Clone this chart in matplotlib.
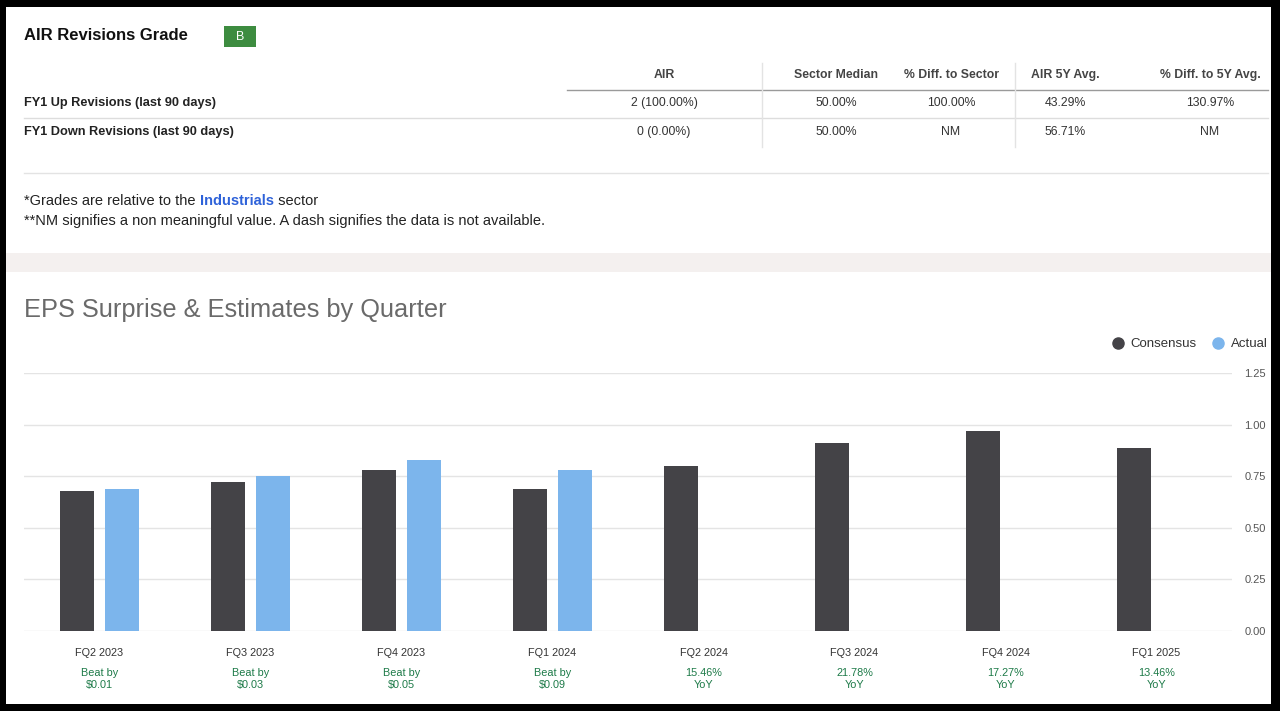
import numpy as np
import matplotlib
matplotlib.use("Agg")
import matplotlib.pyplot as plt
from matplotlib.patches import Rectangle
from matplotlib.lines import Line2D

plt.rcParams['font.family'] = ['Liberation Sans', 'DejaVu Sans']

# Revisions table
ticker = 'AIR'
grade = 'B'
col_headers = ['AIR', 'Sector Median', '% Diff. to Sector', 'AIR 5Y Avg.', '% Diff. to 5Y Avg.']
row_labels = ['FY1 Up Revisions (last 90 days)', 'FY1 Down Revisions (last 90 days)']
row_values = [['2 (100.00%)', '50.00%', '100.00%', '43.29%', '130.97%'],
              ['0 (0.00%)', '50.00%', 'NM', '56.71%', 'NM']]

# EPS chart
quarters = ['FQ2 2023', 'FQ3 2023', 'FQ4 2023', 'FQ1 2024',
            'FQ2 2024', 'FQ3 2024', 'FQ4 2024', 'FQ1 2025']
consensus = [0.68, 0.72, 0.78, 0.69, 0.80, 0.91, 0.97, 0.885]
actual = [0.69, 0.75, 0.83, 0.78]
surprise = ['Beat by\n$0.01', 'Beat by\n$0.03', 'Beat by\n$0.05', 'Beat by\n$0.09',
            '15.46%\nYoY', '21.78%\nYoY', '17.27%\nYoY', '13.46%\nYoY']
yticks = [0, 0.25, 0.5, 0.75, 1.0, 1.25]

W, H = 1280, 711
fig = plt.figure(figsize=(W / 100, H / 100), dpi=100, facecolor='black')

# background layer in pixel coordinates
bg = fig.add_axes([0, 0, 1, 1])
bg.set_xlim(0, W)
bg.set_ylim(H, 0)
bg.axis('off')
bg.add_patch(Rectangle((6, 7), 1265, 697, facecolor='white', edgecolor='none'))
bg.add_patch(Rectangle((6, 253), 1265, 19, facecolor='#f4f0ef', edgecolor='none'))

# header + grade badge
bg.text(24, 36, f'{ticker} Revisions Grade', fontsize=12, fontweight='bold',
        color='#111111', va='center')
bg.add_patch(Rectangle((224, 26), 32, 21, facecolor='#3d8c40', edgecolor='none'))
bg.text(240, 36.5, grade, fontsize=9, color='white', ha='center', va='center')

# table
col_x = [664, 836, 951, 1065, 1210]
row_y = [103, 132]
for x, h in zip(col_x, col_headers):
    bg.text(x, 75, h, fontsize=8.8, fontweight='bold', color='#444444', ha='center', va='center')
for y, lab, vals in zip(row_y, row_labels, row_values):
    bg.text(24, y, lab, fontsize=9.2, fontweight='bold', color='#222222', va='center')
    for x, v in zip(col_x, vals):
        bg.text(x, y, v, fontsize=8.8, color='#333333', ha='center', va='center')
bg.plot([567, 1268], [90, 90], color='#9a9a9a', lw=1)
bg.plot([24, 1268], [118, 118], color='#dddddd', lw=1)
bg.plot([24, 1268], [173, 173], color='#e3e3e3', lw=1)
for x in [762, 1015]:
    bg.plot([x, x], [63, 147], color='#e3e3e3', lw=1)

# footnotes
t1 = bg.text(24, 201, '*Grades are relative to the ', fontsize=10.5, color='#222222', va='center')
t2 = bg.annotate('Industrials', xy=(1, 0.5), xycoords=t1, fontsize=10.5, fontweight='bold',
                 color='#2e62d9', va='center')
bg.annotate(' sector', xy=(1, 0.5), xycoords=t2, fontsize=10.5, color='#222222', va='center')
bg.text(24, 221, '**NM signifies a non meaningful value. A dash signifies the data is not available.',
        fontsize=10.5, color='#222222', va='center')

# chart title
bg.text(24, 310, 'EPS Surprise & Estimates by Quarter', fontsize=18.3, color='#6a6a6a', va='center')

# chart
ax = fig.add_axes([24 / W, 1 - 631 / H, (1232 - 24) / W, (631 - 373) / H])
ax.set_facecolor('none')
x = np.arange(len(quarters))
bw = 0.225
off = 0.149
ax.bar(x - off, consensus, width=bw, color='#444347', zorder=3, label='Consensus')
ax.bar(x[:len(actual)] + off, actual, width=bw, color='#7cb5ec', zorder=3, label='Actual')
ax.set_xlim(-0.5, len(quarters) - 0.5)
ax.set_ylim(0, 1.25)
ax.set_yticks(yticks)
ax.yaxis.tick_right()
ax.set_yticklabels([f'{v:.2f}' for v in yticks], fontsize=8, color='#555555')
ax.tick_params(axis='y', length=0, pad=9)
ax.grid(axis='y', color='#e4e4e4', lw=1, zorder=0)
ax.set_xticks(x)
ax.set_xticklabels(quarters, fontsize=7.8, color='#333333')
ax.tick_params(axis='x', length=0, pad=12)
for s in ax.spines.values():
    s.set_visible(False)
for xi, lab in zip(x, surprise):
    ax.annotate(lab, xy=(xi, 0), xycoords=('data', 'axes fraction'), xytext=(0, -26.5),
                textcoords='offset points', ha='center', va='top', fontsize=7.8,
                color='#1d7a48', linespacing=1.3)

handles = [Line2D([], [], marker='o', ls='none', color='#444347', markersize=8),
           Line2D([], [], marker='o', ls='none', color='#7cb5ec', markersize=8)]
fig.legend(handles, ['Consensus', 'Actual'], loc='center right', ncol=2,
           bbox_to_anchor=(1268 / W, 1 - 344 / H), frameon=False, fontsize=9.5,
           handletextpad=0.4, columnspacing=1.0, handlelength=1.2,
           labelcolor='#333333', borderaxespad=0, borderpad=0)

fig.savefig('out.png', dpi=100, facecolor='black')
